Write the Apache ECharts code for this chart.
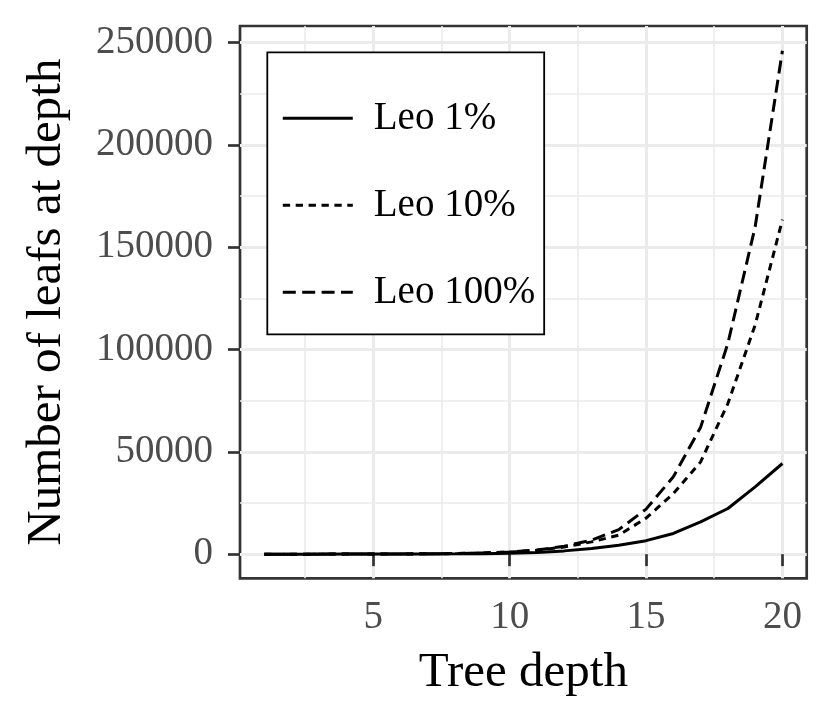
<!DOCTYPE html>
<html>
<head>
<meta charset="utf-8">
<script src="https://cdn.jsdelivr.net/npm/echarts@6/dist/echarts.min.js"></script>
<style>
html,body{margin:0;padding:0;background:#fff;}
#chart{width:830px;height:725px;}
</style>
</head>
<body>
<div id="chart"></div>
<script>
// ---- data ----
const depth = [1,2,3,4,5,6,7,8,9,10,11,12,13,14,15,16,17,18,19,20];
const leo1   = [2, 4, 8, 15, 25, 45, 80, 140, 250, 450, 800, 1600, 2800, 4400, 6600, 10100, 15800, 22300, 32900, 44300];
const leo10  = [2, 6, 14, 28, 50, 95, 170, 300, 550, 1000, 1900, 3500, 6000, 9300, 17600, 29600, 45100, 73600, 112000, 163500];
const leo100 = [4, 8, 16, 30, 55, 100, 180, 330, 600, 1100, 2000, 3900, 6800, 12000, 22000, 37800, 62000, 103000, 160000, 246000];
const seriesNames = ['Leo 1%', 'Leo 10%', 'Leo 100%'];
const xMajorTicks = [5, 10, 15, 20];
const xMinorTicks = [2.5, 7.5, 12.5, 17.5];
const yMajorTicks = [0, 50000, 100000, 150000, 200000, 250000];
const yMinorTicks = [25000, 75000, 125000, 175000, 225000];

// ---- style ----
const FONT = 'Liberation Serif';
const GRID_COLOR = '#ebebeb';
const DARK = '#333333';
const LABEL_COLOR = '#4d4d4d';
const X_MIN = 0.11, X_MAX = 20.89;
const Y_MIN = -11800, Y_MAX = 258100;
const LINE_W = 3;

function pairs(xs, ys) { return xs.map((x, i) => [x, ys[i]]); }

const lineStyles = [
  { type: 'solid' },
  { type: [7.3, 5.6] },
  { type: [13, 6.4] }
];
const dataSets = [leo1, leo10, leo100];

const chart = echarts.init(document.getElementById('chart'), null, { renderer: 'canvas' });
chart.setOption({
  backgroundColor: '#ffffff',
  animation: false,
  grid: {
    left: 240, right: 23.3, top: 26, bottom: 146.7,
    show: true, borderColor: DARK, borderWidth: 2.7, backgroundColor: 'transparent'
  },
  legend: {
    orient: 'vertical',
    left: 267.3, top: 52.3,
    data: seriesNames,
    itemWidth: 70, itemHeight: 14, itemGap: 47,
    padding: [46, 9, 22, 14],
    borderColor: '#000', borderWidth: 1.8, backgroundColor: '#ffffff',
    itemStyle: { opacity: 0, color: 'transparent', borderWidth: 0 },
    lineStyle: { width: LINE_W },
    textStyle: { fontFamily: FONT, fontSize: 39, color: '#000', lineHeight: 40, padding: [0, 0, 0, 16] }
  },
  xAxis: [
    {
      type: 'value', min: X_MIN, max: X_MAX,
      name: 'Tree depth', nameLocation: 'middle', nameGap: 70,
      nameTextStyle: { fontFamily: FONT, fontSize: 49, color: '#000' },
      axisLine: { show: false },
      axisTick: { show: true, customValues: xMajorTicks, length: 12, lineStyle: { color: DARK, width: 2.7 } },
      axisLabel: { customValues: xMajorTicks, margin: 20, fontFamily: FONT, fontSize: 39, color: LABEL_COLOR,
                   formatter: v => String(v) },
      splitLine: { show: true, lineStyle: { color: GRID_COLOR, width: 3 } }
    },
    {
      type: 'value', min: X_MIN, max: X_MAX, position: 'bottom',
      axisLine: { show: false },
      axisTick: { show: false, customValues: xMinorTicks },
      axisLabel: { show: false, customValues: xMinorTicks },
      splitLine: { show: true, lineStyle: { color: GRID_COLOR, width: 1.6 } }
    }
  ],
  yAxis: [
    {
      type: 'value', min: Y_MIN, max: Y_MAX,
      name: 'Number of leafs at depth', nameLocation: 'middle', nameGap: 168,
      nameTextStyle: { fontFamily: FONT, fontSize: 49, color: '#000' },
      axisLine: { show: false },
      axisTick: { show: true, customValues: yMajorTicks, length: 12, lineStyle: { color: DARK, width: 2.7 } },
      axisLabel: { customValues: yMajorTicks, margin: 27, fontFamily: FONT, fontSize: 39, color: LABEL_COLOR,
                   formatter: v => String(v) },
      splitLine: { show: true, lineStyle: { color: GRID_COLOR, width: 3 } }
    },
    {
      type: 'value', min: Y_MIN, max: Y_MAX, position: 'left',
      axisLine: { show: false },
      axisTick: { show: false, customValues: yMinorTicks },
      axisLabel: { show: false, customValues: yMinorTicks },
      splitLine: { show: true, lineStyle: { color: GRID_COLOR, width: 1.6 } }
    }
  ],
  series: seriesNames.map((name, i) => ({
    name: name,
    type: 'line',
    xAxisIndex: 0, yAxisIndex: 0,
    data: pairs(depth, dataSets[i]),
    symbol: 'none', showSymbol: false,
    smooth: false,
    color: '#000',
    lineStyle: Object.assign({ color: '#000', width: LINE_W, cap: 'butt' }, lineStyles[i]),
    z: 3
  }))
});
</script>
</body>
</html>
